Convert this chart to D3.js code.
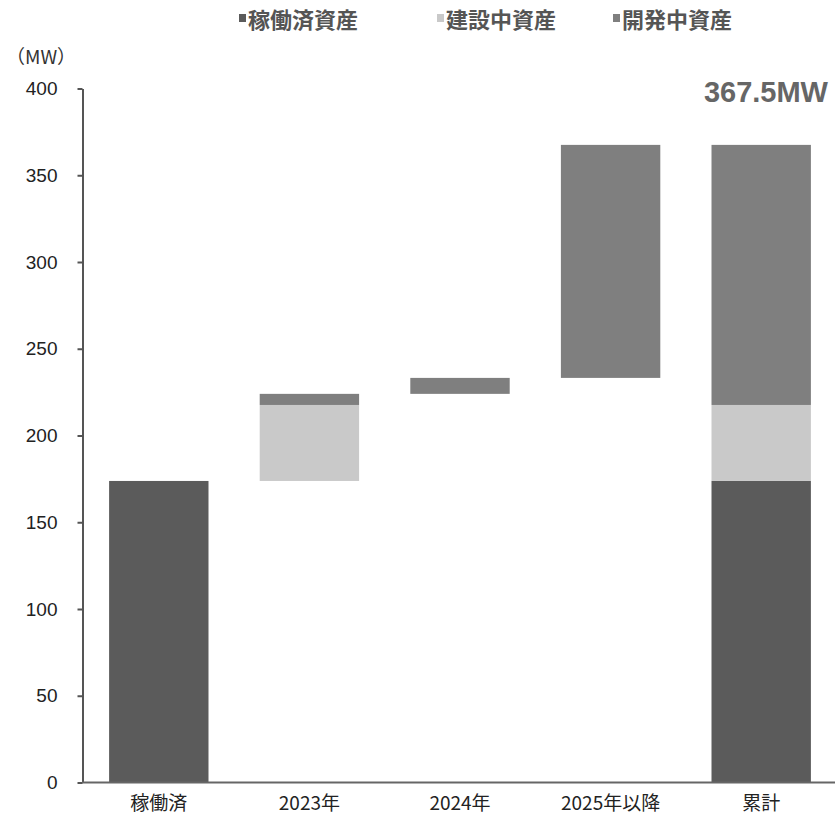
<!DOCTYPE html>
<html>
  <head>
    <meta charset="utf-8" />
    <script src="https://cdn.jsdelivr.net/npm/d3@7/dist/d3.min.js"></script>
    <style>
      body { margin: 0; background: #fff; }
      text { font-family: 'Liberation Sans', Arial, 'Noto Sans CJK JP', sans-serif; }
      .jp { font-family: 'Noto Sans CJK JP', 'Liberation Sans', sans-serif; }
    </style>
  </head>
  <body>
    <svg width="835" height="818"></svg>
    <script>
      // 各区分ごとの増分 (MW)
      const categories = ['稼働済', '2023年', '2024年', '2025年以降', '累計']
      const operating = [173.8, 0, 0, 0]
      const construction = [0, 43.8, 0, 0]
      const development = [0, 6.4, 9.2, 134.3]
      const yTicks = [0, 50, 100, 150, 200, 250, 300, 350, 400]
      const seriesNames = ['稼働済資産', '建設中資産', '開発中資産']
      const colors = ['#5b5b5b', '#c9c9c9', '#7f7f7f']

      const svg = d3.select('svg')

      const x = d3
        .scaleBand()
        .domain(categories)
        .range([83.5, 836.5])
        .paddingInner(0.34)
        .paddingOuter(0.17)

      const y = d3.scaleLinear().domain([0, 400]).range([782.5, 88.5])

      // ウォーターフォール用の行を作る（累計は合計）
      const rows = []
      let base = 0
      categories.slice(0, 4).forEach((c, i) => {
        const vals = [operating[i], construction[i], development[i]]
        rows.push({ cat: c, base: base, vals: vals })
        base += d3.sum(vals)
      })
      rows.push({
        cat: '累計',
        base: 0,
        vals: [d3.sum(operating), d3.sum(construction), d3.sum(development)]
      })

      const segs = []
      rows.forEach((r) => {
        let y0 = r.base
        r.vals.forEach((v, k) => {
          if (v > 0) segs.push({ cat: r.cat, y0: y0, y1: y0 + v, k: k })
          y0 += v
        })
      })

      svg
        .append('g')
        .selectAll('rect')
        .data(segs)
        .enter()
        .append('rect')
        .attr('x', (d) => x(d.cat))
        .attr('width', x.bandwidth())
        .attr('y', (d) => y(d.y1))
        .attr('height', (d) => y(d.y0) - y(d.y1))
        .attr('fill', (d) => colors[d.k])

      // y軸
      const yAxis = svg
        .append('g')
        .attr('transform', 'translate(82.5,0)')
        .call(
          d3
            .axisLeft(y)
            .tickValues(yTicks)
            .tickSize(5)
            .tickSizeOuter(0)
            .tickPadding(20)
        )
      yAxis.select('.domain').attr('stroke', '#555').attr('stroke-width', 2)
      yAxis.selectAll('.tick line').attr('stroke', '#555').attr('stroke-width', 2)
      yAxis
        .selectAll('.tick text')
        .attr('fill', '#222')
        .attr('font-size', 19)
        .style('font-family', "'Liberation Sans', Arial, sans-serif")

      // x軸
      svg
        .append('line')
        .attr('x1', 82)
        .attr('x2', 835)
        .attr('y1', y(0))
        .attr('y2', y(0))
        .attr('stroke', '#666')
        .attr('stroke-width', 2)

      svg
        .append('g')
        .selectAll('text')
        .data(categories)
        .enter()
        .append('text')
        .attr('class', 'jp')
        .attr('x', (d) => x(d) + x.bandwidth() / 2)
        .attr('y', 810)
        .attr('text-anchor', 'middle')
        .attr('font-size', 19)
        .attr('fill', '#222')
        .text((d) => d)

      // 単位
      svg
        .append('text')
        .attr('class', 'jp')
        .attr('x', 6)
        .attr('y', 64)
        .attr('font-size', 19)
        .attr('fill', '#333')
        .text('（MW）')

      // 合計ラベル
      const total = d3.sum(rows[4].vals)
      svg
        .append('text')
        .attr('x', 828)
        .attr('y', 102)
        .attr('text-anchor', 'end')
        .attr('font-size', 29)
        .attr('font-weight', 'bold')
        .attr('fill', '#666')
        .text(d3.format('.1f')(total) + 'MW')

      // 凡例
      const legendX = [239, 437, 613]
      const legend = svg
        .append('g')
        .selectAll('g')
        .data(seriesNames)
        .enter()
        .append('g')
        .attr('transform', (d, i) => `translate(${legendX[i]},0)`)
      legend
        .append('rect')
        .attr('x', 0)
        .attr('y', 14)
        .attr('width', 7)
        .attr('height', 8)
        .attr('fill', (d, i) => colors[i])
      legend
        .append('text')
        .attr('class', 'jp')
        .attr('x', 9)
        .attr('y', 28)
        .attr('font-size', 22)
        .attr('font-weight', 'bold')
        .attr('fill', '#555')
        .text((d) => d)
    </script>
  </body>
</html>
